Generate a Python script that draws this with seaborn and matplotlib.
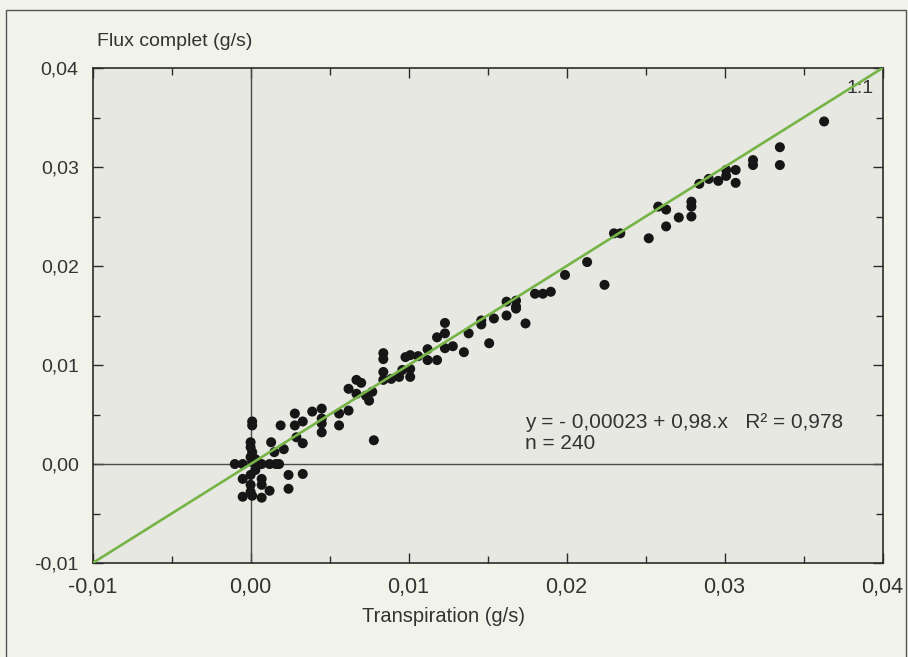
import matplotlib
matplotlib.use("Agg")
import matplotlib.pyplot as plt
from matplotlib.patches import Rectangle
from matplotlib.ticker import FuncFormatter, MultipleLocator
import pandas as pd
import seaborn as sns

# Transpiration (x) vs flux complet (y), g/s
transpiration = [
    # cluster around the origin
    0.0001, 0.0001, 0.0000, 0.0000, 0.0001, 0.0000, 0.0001, 0.0004,
    0.0013, 0.0021, 0.0015,
    -0.0010, -0.0005, 0.0007, 0.0012, 0.0016, 0.0018,
    0.0024, 0.0033, 0.0024,
    -0.0005, 0.0000, 0.0000, 0.0000, 0.0007, 0.0007, 0.0012, -0.0005, 0.0007, 0.0001, 0.0003, 0.0003,
    # low range
    0.0019, 0.0028, 0.0028, 0.0033, 0.0039, 0.0045, 0.0045, 0.0045, 0.0045, 0.0033, 0.0029,
    0.0056, 0.0062, 0.0056, 0.0078,
    0.0062, 0.0067, 0.0070, 0.0067, 0.0073, 0.0075, 0.0077,
    # mid range
    0.0084, 0.0084, 0.0084, 0.0084, 0.0089, 0.0094, 0.0096, 0.0101, 0.0101, 0.0098, 0.0101,
    0.0106, 0.0112, 0.0112, 0.0118, 0.0118, 0.0123, 0.0128, 0.0135, 0.0123, 0.0123, 0.0138,
    0.0146, 0.0146, 0.0154, 0.0151, 0.0162, 0.0162, 0.0168, 0.0168, 0.0168, 0.0174,
    0.0180, 0.0185, 0.0190, 0.0199, 0.0213, 0.0224, 0.0230, 0.0234,
    # upper range
    0.0252, 0.0258, 0.0263, 0.0263, 0.0271, 0.0279, 0.0279, 0.0279, 0.0284, 0.0290,
    0.0296, 0.0301, 0.0301, 0.0307, 0.0307, 0.0318, 0.0318, 0.0335, 0.0335, 0.0363,
]
flux_complet = [
    0.0043, 0.0039, 0.0022, 0.0017, 0.0012, 0.0007, 0.0002, -0.0001,
    0.0022, 0.0015, 0.0012,
    0.0000, 0.0000, 0.0000, 0.0000, 0.0000, 0.0000,
    -0.0011, -0.0010, -0.0025,
    -0.0015, -0.0011, -0.0021, -0.0028, -0.0015, -0.0021, -0.0027, -0.0033, -0.0034, -0.0032, -0.0006, 0.0005,
    0.0039, 0.0051, 0.0039, 0.0043, 0.0053, 0.0056, 0.0046, 0.0041, 0.0032, 0.0021, 0.0027,
    0.0051, 0.0054, 0.0039, 0.0024,
    0.0076, 0.0085, 0.0082, 0.0071, 0.0069, 0.0064, 0.0073,
    0.0112, 0.0106, 0.0093, 0.0085, 0.0086, 0.0088, 0.0095, 0.0096, 0.0088, 0.0108, 0.0110,
    0.0109, 0.0116, 0.0105, 0.0105, 0.0128, 0.0117, 0.0119, 0.0113, 0.0132, 0.01425, 0.0132,
    0.0145, 0.0141, 0.0147, 0.0122, 0.0164, 0.0150, 0.0165, 0.0159, 0.0157, 0.0142,
    0.0172, 0.0172, 0.0174, 0.0191, 0.0204, 0.0181, 0.0233, 0.0233,
    0.0228, 0.0260, 0.0257, 0.0240, 0.0249, 0.0265, 0.0260, 0.0250, 0.0283, 0.0288,
    0.0286, 0.0297, 0.0291, 0.0297, 0.0284, 0.0307, 0.0302, 0.0320, 0.0302, 0.0346,
]
axis_min, axis_max = -0.01, 0.04
fit_text = "y = - 0,00023 + 0,98.x   R² = 0,978"
n_text = "n = 240"

df = pd.DataFrame({"transpiration": transpiration, "flux": flux_complet})

sns.set_style("ticks")
plt.rcParams["font.family"] = ["Liberation Sans", "DejaVu Sans"]

FIG_BG = "#f1f2ea"
AX_BG = "#e7e8e2"
GREEN = "#76b447"
DARK = "#2b2b2b"
TXT = "#333333"

fig = plt.figure(figsize=(9.08, 6.57), dpi=100, facecolor=FIG_BG)
ax = fig.add_axes([0.102, 0.143, 0.870, 0.7535], facecolor=AX_BG)

# zero lines
ax.axhline(0, color="#4a4a4a", lw=1.0, zorder=1)
ax.axvline(0, color="#4a4a4a", lw=1.0, zorder=1)

sns.scatterplot(data=df, x="transpiration", y="flux", ax=ax,
                color="#161616", s=52, edgecolor="none", zorder=3)

# 1:1 line
ax.axline((0, 0), slope=1, color=GREEN, lw=1.9, zorder=4)
ax.text(0.0377, 0.0379, "1:1", fontsize=14, color=TXT,
        ha="left", va="center")

ax.text(0.01734, 0.00422, fit_text, fontsize=15, color=TXT,
        ha="left", va="center")
ax.text(0.01734, 0.0021, n_text, fontsize=15, color=TXT,
        ha="left", va="center")

ax.set_xlim(axis_min, axis_max)
ax.set_ylim(axis_min, axis_max)
comma = FuncFormatter(lambda v, p: f"{round(v, 2) + 0.0:.2f}".replace(".", ","))
for a in (ax.xaxis, ax.yaxis):
    a.set_major_locator(MultipleLocator(0.01))
    a.set_minor_locator(MultipleLocator(0.005))
    a.set_major_formatter(comma)
ax.tick_params(which="both", direction="in", top=True, right=True,
               color=DARK, labelcolor=TXT, labelsize=14)
ax.tick_params(which="major", length=7, width=1.0)
ax.tick_params(which="minor", length=5, width=1.0)
ax.tick_params(axis="x", pad=10, labelsize=15.5)
ax.tick_params(axis="y", pad=10)
for sp in ax.spines.values():
    sp.set_visible(True)
    sp.set_color(DARK)
    sp.set_linewidth(1.2)
ax.set_xlabel("")
ax.set_ylabel("")

fig.text(97 / 908, 1 - 42 / 657, "Flux complet (g/s)", fontsize=14,
         color=TXT, ha="left", va="center")
fig.text(443 / 908, 1 - 616 / 657, "Transpiration (g/s)", fontsize=14.5,
         color=TXT, ha="center", va="center")

# outer frame of the printed figure
fig.patches.append(Rectangle((6 / 908, -0.05), 900 / 908, 1.05 - 10 / 657,
                             transform=fig.transFigure, fill=False,
                             edgecolor="#555555", lw=1.0))

fig.savefig("out.png", dpi=100, facecolor=FIG_BG)
